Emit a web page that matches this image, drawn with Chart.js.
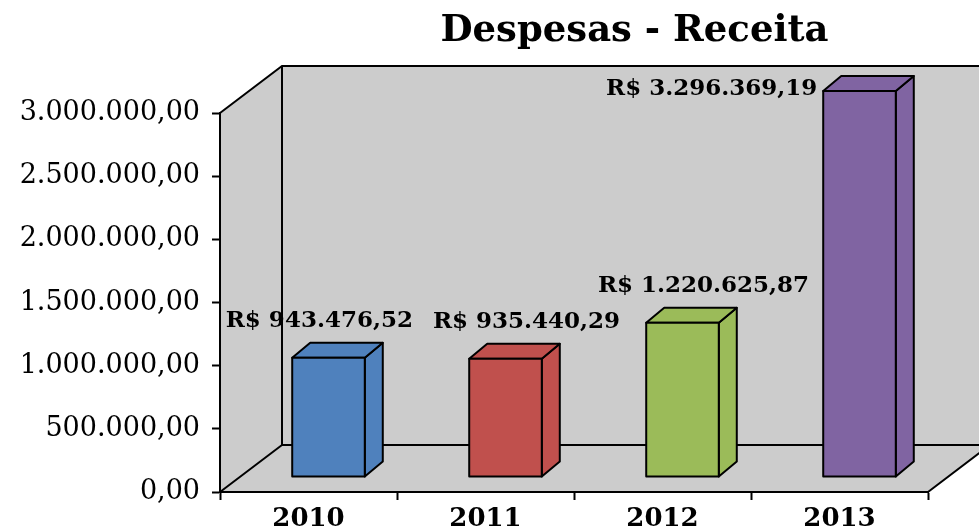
<!DOCTYPE html>
<html>
<head>
<meta charset="utf-8">
<title>Despesas - Receita</title>
<script src="https://cdn.jsdelivr.net/npm/chart.js@4.4.1/dist/chart.umd.min.js"></script>
<style>
    html, body { margin: 0; padding: 0; background: #fff; }
    #chart { display: block; }
</style>
</head>
<body>
<canvas id="chart" width="979" height="529"></canvas>
<script>
// Data
const years = ['2010', '2011', '2012', '2013'];
const receita = [943476.52, 935440.29, 1220625.87, 3296369.19];
const barColors = ['#4f81bd', '#c0504d', '#9bbb59', '#8064a2'];
const yTicks = [0, 500000, 1000000, 1500000, 2000000, 2500000, 3000000];
const chartTitle = 'Despesas - Receita';

// 3D look
const WALL = { dx: 62, dy: 47 };      // depth of the walls / floor
const FRONT = { dx: 20, dy: 15 };     // bar front face pushed back
const SIDE = { dx: 18, dy: 15 };      // bar depth
const WALL_GRAY = '#cccccc';
const FONT = "'DejaVu Serif', serif";
const LABEL_FONT = 'bold 23px ' + FONT;

// 1234567.8 -> "1.234.567,80"
function brl(v) {
    const parts = Number(v).toFixed(2).split('.');
    return parts[0].replace(/\B(?=(\d{3})+(?!\d))/g, '.') + ',' + parts[1];
}

function poly(ctx, pts) {
    ctx.beginPath();
    ctx.moveTo(pts[0][0], pts[0][1]);
    for (let i = 1; i < pts.length; i++) ctx.lineTo(pts[i][0], pts[i][1]);
    ctx.closePath();
}

const box3d = {
    id: 'box3d',
    beforeDraw(chart) {
        const ctx = chart.ctx;
        const { left, right, top, bottom } = chart.chartArea;
        const W = chart.width;
        const bx = left + WALL.dx, by = top - WALL.dy, fy = bottom - WALL.dy;

        ctx.save();
        ctx.fillStyle = '#fff';
        ctx.fillRect(0, 0, W, chart.height);

        ctx.fillStyle = WALL_GRAY;
        // back wall
        ctx.fillRect(bx, by, W - bx, fy - by);
        // left wall
        poly(ctx, [[left, top], [bx, by], [bx, fy], [left, bottom]]);
        ctx.fill();
        // floor
        poly(ctx, [[left, bottom], [right, bottom], [right + WALL.dx, fy], [bx, fy]]);
        ctx.fill();

        ctx.strokeStyle = '#000';
        ctx.lineWidth = 2;
        ctx.beginPath();
        ctx.moveTo(left, top); ctx.lineTo(bx, by); ctx.lineTo(W, by);
        ctx.moveTo(bx, by); ctx.lineTo(bx, fy); ctx.lineTo(W, fy);
        ctx.moveTo(left, bottom); ctx.lineTo(bx, fy);
        ctx.moveTo(right, bottom); ctx.lineTo(right + WALL.dx, fy);
        ctx.stroke();
        ctx.restore();
    },
    afterDatasetsDraw(chart) {
        const ctx = chart.ctx;
        const area = chart.chartArea;
        const meta = chart.getDatasetMeta(0);
        const labels = [];

        ctx.save();
        ctx.lineWidth = 2;
        ctx.lineJoin = 'round';
        ctx.strokeStyle = '#000';
        ctx.font = LABEL_FONT;
        meta.data.forEach((bar, i) => {
            const p = bar.getProps(['x', 'y', 'base', 'width'], true);
            // bars above the axis max are cut at the wall top
            const clipped = p.y < area.top;
            const yTop = clipped ? area.top - 7 : p.y;
            const x0 = p.x - p.width / 2 + FRONT.dx;
            const x1 = p.x + p.width / 2 + FRONT.dx;
            const y0 = yTop - FRONT.dy;
            const y1 = p.base - FRONT.dy;

            ctx.fillStyle = barColors[i];
            // side
            poly(ctx, [[x1, y0], [x1 + SIDE.dx, y0 - SIDE.dy], [x1 + SIDE.dx, y1 - SIDE.dy], [x1, y1]]);
            ctx.fill(); ctx.stroke();
            // top
            poly(ctx, [[x0, y0], [x0 + SIDE.dx, y0 - SIDE.dy], [x1 + SIDE.dx, y0 - SIDE.dy], [x1, y0]]);
            ctx.fill(); ctx.stroke();
            // front
            poly(ctx, [[x0, y0], [x1, y0], [x1, y1], [x0, y1]]);
            ctx.fill(); ctx.stroke();

            const txt = 'R$ ' + brl(receita[i]);
            const w = ctx.measureText(txt).width;
            if (clipped) {
                labels.push({ txt, left: x0 - 6 - w, w, y: y0 - 2 });
            } else {
                labels.push({ txt, left: (x0 + x1) / 2 + 21 - w / 2, w, y: y0 - 37 });
            }
        });

        // push labels left when they run into the next one
        for (let i = labels.length - 2; i >= 0; i--) {
            const a = labels[i], b = labels[i + 1];
            if (Math.abs(a.y - b.y) < 26 && a.left + a.w > b.left - 20) {
                a.left = b.left - 20 - a.w;
            }
        }

        ctx.fillStyle = '#000';
        ctx.textAlign = 'left';
        ctx.textBaseline = 'middle';
        labels.forEach(l => ctx.fillText(l.txt, l.left, l.y));
        ctx.restore();
    },
    afterDraw(chart) {
        const ctx = chart.ctx;
        const { left } = chart.chartArea;
        ctx.save();
        ctx.fillStyle = '#000';
        ctx.font = 'bold 37px ' + FONT;
        ctx.textAlign = 'center';
        ctx.textBaseline = 'middle';
        ctx.fillText(chartTitle, (left + WALL.dx + chart.width) / 2 + 4, 31);
        ctx.restore();
    }
};

function initializeChart() {
    const ctx = document.getElementById('chart');
    if (!ctx) return;

    Chart.defaults.font.family = FONT;
    Chart.defaults.color = '#000';

    new Chart(ctx, {
        type: 'bar',
        data: {
            labels: years,
            datasets: [{
                label: chartTitle,
                data: receita,
                backgroundColor: 'transparent',
                borderWidth: 0,
                categoryPercentage: 1,
                barPercentage: 0.41
            }]
        },
        options: {
            responsive: false,
            animation: false,
            layout: { padding: { top: 113, right: 51, bottom: 0, left: 0 } },
            plugins: {
                legend: { display: false },
                title: { display: false },
                tooltip: { enabled: false }
            },
            scales: {
                x: {
                    grid: {
                        drawOnChartArea: false,
                        tickLength: 8,
                        tickWidth: 2,
                        tickColor: '#000'
                    },
                    border: { color: '#000', width: 2 },
                    ticks: {
                        font: { size: 26, weight: 'bold' },
                        padding: 4
                    },
                    afterFit(axis) { axis.height = 37; }
                },
                y: {
                    min: 0,
                    max: 3000000,
                    afterBuildTicks(axis) {
                        axis.ticks = yTicks.map(v => ({ value: v }));
                    },
                    grid: {
                        drawOnChartArea: false,
                        tickLength: 8,
                        tickWidth: 2,
                        tickColor: '#000'
                    },
                    border: { color: '#000', width: 2 },
                    ticks: {
                        font: { size: 27 },
                        padding: 12,
                        callback: value => brl(value)
                    },
                    afterFit(axis) { axis.width = 220; }
                }
            }
        },
        plugins: [box3d]
    });
}

initializeChart();
</script>
</body>
</html>
